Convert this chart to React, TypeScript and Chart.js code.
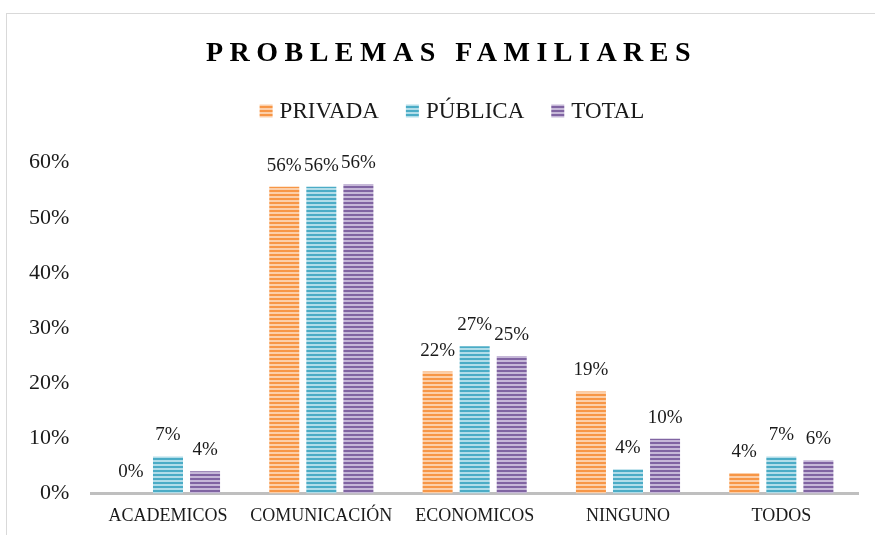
import React, { useEffect, useRef } from "react";
import { Chart, registerables } from "chart.js";

Chart.register(...registerables);

const categories = ["ACADEMICOS", "COMUNICACIÓN", "ECONOMICOS", "NINGUNO", "TODOS"];
const privada = [0, 55.6, 22.1, 18.5, 3.7];
const publica = [6.7, 55.6, 26.7, 4.4, 6.7];
const total = [4.0, 56.1, 24.9, 9.9, 6.0];
const seriesNames = ["PRIVADA", "PÚBLICA", "TOTAL"];
const yTicks = [0, 10, 20, 30, 40, 50, 60];

const FONT = "'Liberation Serif', 'Times New Roman', serif";
const TEXT = "#1a1a1a";

function stripe(color: string, light: string) {
  const c = document.createElement("canvas");
  c.width = 4;
  c.height = 4;
  const x = c.getContext("2d")!;
  x.fillStyle = light;
  x.fillRect(0, 0, 4, 4);
  x.fillStyle = color;
  x.fillRect(0, 0, 4, 2);
  return x.createPattern(c, "repeat")!;
}

export default function App() {
  const ref = useRef<HTMLCanvasElement>(null);

  useEffect(() => {
    if (!ref.current) return;
    const patterns = [
      stripe("#F79646", "#FCCFA9"),
      stripe("#4BACC6", "#B2DDE9"),
      stripe("#8064A2", "#C6B8D8"),
    ];
    const dataArr = [privada, publica, total];

    const titleLegendDraw = {
      id: "titleLegendDraw",
      afterDraw(chart: any) {
        const ctx = chart.ctx;
        const cx = chart.width / 2;
        ctx.save();
        // title with letter spacing
        ctx.font = `bold 28px ${FONT}`;
        (ctx as any).letterSpacing = "6.5px";
        ctx.fillStyle = "#000";
        ctx.textAlign = "center";
        ctx.textBaseline = "middle";
        ctx.fillText("PROBLEMAS FAMILIARES", cx + 4.5, 40);
        (ctx as any).letterSpacing = "0px";
        // legend
        ctx.font = `23px ${FONT}`;
        ctx.textAlign = "left";
        const box = 13;
        const gapText = 7;
        const gapItem = 27;
        const widths = seriesNames.map((n) => box + gapText + ctx.measureText(n).width);
        const totalW = widths.reduce((a, b) => a + b, 0) + gapItem * (seriesNames.length - 1);
        let x = cx + 5 - totalW / 2;
        const y = 97;
        seriesNames.forEach((n, i) => {
          ctx.fillStyle = patterns[i];
          ctx.fillRect(x, y - box / 2, box, box);
          ctx.fillStyle = TEXT;
          ctx.fillText(n, x + box + gapText, y + 1);
          x += widths[i] + gapItem;
        });
        ctx.restore();
      },
    };

    const dataLabels = {
      id: "dataLabels",
      afterDatasetsDraw(chart: any) {
        const ctx = chart.ctx;
        ctx.save();
        ctx.font = `19px ${FONT}`;
        ctx.fillStyle = TEXT;
        ctx.textAlign = "center";
        ctx.textBaseline = "alphabetic";
        chart.data.datasets.forEach((ds: any, i: number) => {
          const meta = chart.getDatasetMeta(i);
          meta.data.forEach((el: any, j: number) => {
            const v = ds.data[j];
            ctx.fillText(Math.round(v) + "%", el.x, el.y - 16);
          });
        });
        ctx.restore();
      },
    };

    const chart = new Chart(ref.current, {
      type: "bar",
      data: {
        labels: categories,
        datasets: seriesNames.map((n, i) => ({
          label: n,
          data: dataArr[i],
          backgroundColor: patterns[i],
          borderWidth: 0,
          categoryPercentage: 0.725,
          barPercentage: 0.81,
        })),
      },
      options: {
        responsive: false,
        animation: false,
        layout: { padding: { left: 0, right: 29, top: 0, bottom: 5 } },
        plugins: {
          title: {
            display: true,
            text: "PROBLEMAS FAMILIARES",
            color: "rgba(0,0,0,0)",
            font: { family: FONT, size: 28, weight: "bold", lineHeight: 1.2 },
            padding: { top: 23, bottom: 92 },
          },
          legend: { display: false },
          tooltip: { enabled: false },
        },
        scales: {
          x: {
            grid: { display: false, drawTicks: false },
            border: { display: true, color: "#BFBFBF", width: 3 },
            ticks: { color: TEXT, font: { family: FONT, size: 18 }, padding: 12, maxRotation: 0 },
          },
          y: {
            min: 0,
            max: 60,
            grid: { display: false, drawTicks: false },
            border: { display: false },
            afterBuildTicks(scale: any) {
              scale.ticks = yTicks.map((v) => ({ value: v }));
            },
            ticks: {
              color: TEXT,
              font: { family: FONT, size: 22 },
              padding: 22,
              callback: (v: any) => v + "%",
            },
          },
        },
      },
      plugins: [titleLegendDraw, dataLabels],
    });
    return () => chart.destroy();
  }, []);

  return (
    <div style={{ position: "absolute", left: 0, top: 0, width: 875, height: 535, overflow: "hidden", background: "#fff" }}>
      <div
        style={{
          position: "absolute",
          left: 6,
          top: 13,
          width: 900,
          height: 560,
          border: "1px solid #D9D9D9",
          background: "#fff",
        }}
      >
        <canvas ref={ref} width={880} height={530} style={{ display: "block", width: 880, height: 530 }} />
      </div>
    </div>
  );
}
